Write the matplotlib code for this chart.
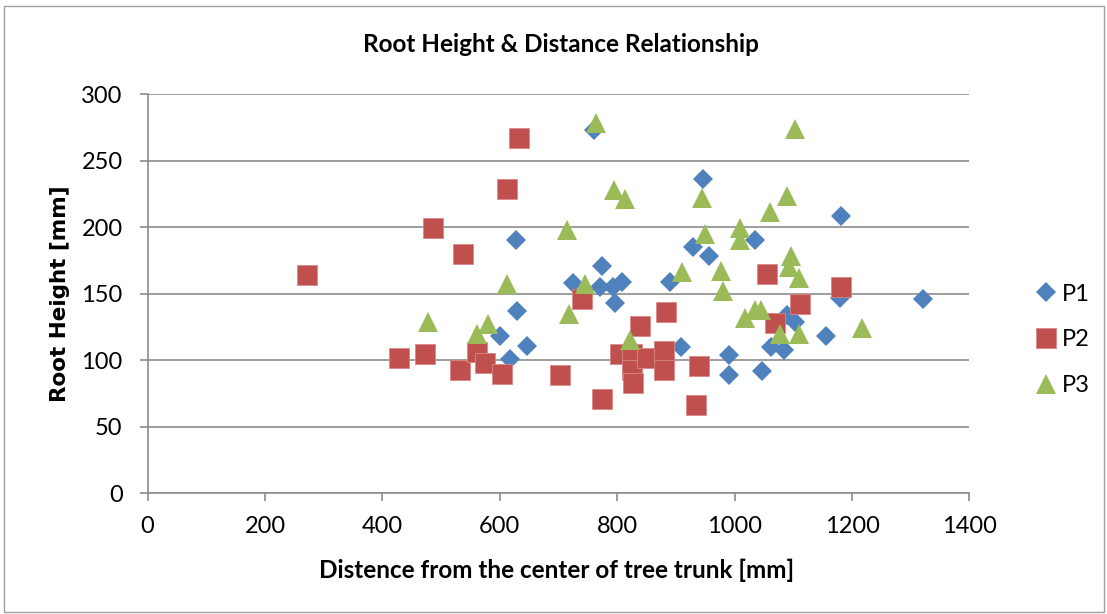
import matplotlib
matplotlib.use("Agg")
import matplotlib.pyplot as plt
from matplotlib.patches import Rectangle

# P1 (blue diamonds)
p1_x = [601, 617, 628, 629, 647, 724, 761, 771, 774, 793, 796, 808, 890, 909, 929,
        946, 956, 990, 990, 1034, 1046, 1062, 1085, 1089, 1103, 1156, 1179, 1181, 1321]
p1_y = [118, 101, 190, 137, 111, 158, 273, 155, 171, 155, 143, 159, 159, 110, 185,
        236, 178, 104, 89, 190, 92, 110, 108, 134, 129, 118, 147, 208, 146]

# P2 (red squares)
p2_x = [272, 429, 473, 487, 537, 533, 561, 575, 603, 612, 633, 703, 740, 774, 805,
        826, 826, 827, 839, 850, 880, 880, 883, 939, 934, 1055, 1069, 1111, 1181]
p2_y = [164, 102, 105, 199, 180, 93, 106, 98, 90, 229, 267, 89, 146, 71, 105,
        105, 93, 83, 126, 102, 107, 93, 136, 96, 66, 165, 128, 142, 155]

# P3 (green triangles)
p3_x = [478, 561, 580, 612, 714, 718, 745, 764, 795, 813, 821, 911, 945, 949, 976,
        980, 1009, 1009, 1018, 1035, 1045, 1060, 1077, 1090, 1093, 1096, 1103, 1109,
        1109, 1217]
p3_y = [129, 120, 127, 157, 198, 135, 157, 278, 228, 221, 115, 166, 222, 195, 167,
        152, 199, 190, 132, 138, 138, 211, 120, 223, 170, 178, 274, 162, 120, 124]

plt.rcParams['font.family'] = ['Lato', 'DejaVu Sans']

fig = plt.figure(figsize=(11.07, 6.14), dpi=100)
ax = fig.add_axes([0.1333, 0.1966, 0.7424, 0.6503])

ax.plot(p1_x, p1_y, 'D', color='#4F81BD', markersize=10.5, markeredgewidth=0, label='P1')
ax.plot(p2_x, p2_y, 's', color='#C0504D', markersize=14, markeredgecolor='#D8888A',
        markeredgewidth=0.6, label='P2')
ax.plot(p3_x, p3_y, '^', color='#9BBB59', markersize=14, markeredgewidth=0, label='P3')

ax.set_xlim(0, 1400)
ax.set_ylim(0, 300)
ax.set_xticks(range(0, 1401, 200))
ax.set_yticks(range(0, 301, 50))
ax.grid(axis='y', color='#8C8C8C', linewidth=1.2)
ax.set_axisbelow(True)
for s in ['top', 'right']:
    ax.spines[s].set_visible(False)
for s in ['left', 'bottom']:
    ax.spines[s].set_color('#8C8C8C')
    ax.spines[s].set_linewidth(1.2)
ax.tick_params(axis='both', colors='#8C8C8C', length=6, width=1.2,
               labelcolor='black', labelsize=17)
ax.tick_params(axis='x', pad=10)
ax.tick_params(axis='y', pad=12)

fig.text(561 / 1107, 1 - 45 / 614, 'Root Height & Distance Relationship',
         ha='center', va='center', fontsize=17.5, fontweight='bold')
fig.text(557 / 1107, 1 - 570 / 614, 'Distence from the center of tree trunk [mm]',
         ha='center', va='center', fontsize=17.5, fontweight='bold')
fig.text(60 / 1107, 1 - 294 / 614, 'Root Height [mm]', rotation=90,
         ha='center', va='center', fontsize=15.5, fontweight='bold',
         family=['DejaVu Sans'])

leg = ax.legend(loc='center left', bbox_to_anchor=(1.052, 0.384), frameon=False,
                fontsize=17, handletextpad=0.1, labelspacing=1.05, handlelength=1.1)

fig.add_artist(Rectangle((4 / 1107, 2 / 614), 1100 / 1107, 606 / 614,
                         transform=fig.transFigure, fill=False,
                         edgecolor='#A0A0A0', linewidth=1))

fig.savefig('out.png', dpi=100)
